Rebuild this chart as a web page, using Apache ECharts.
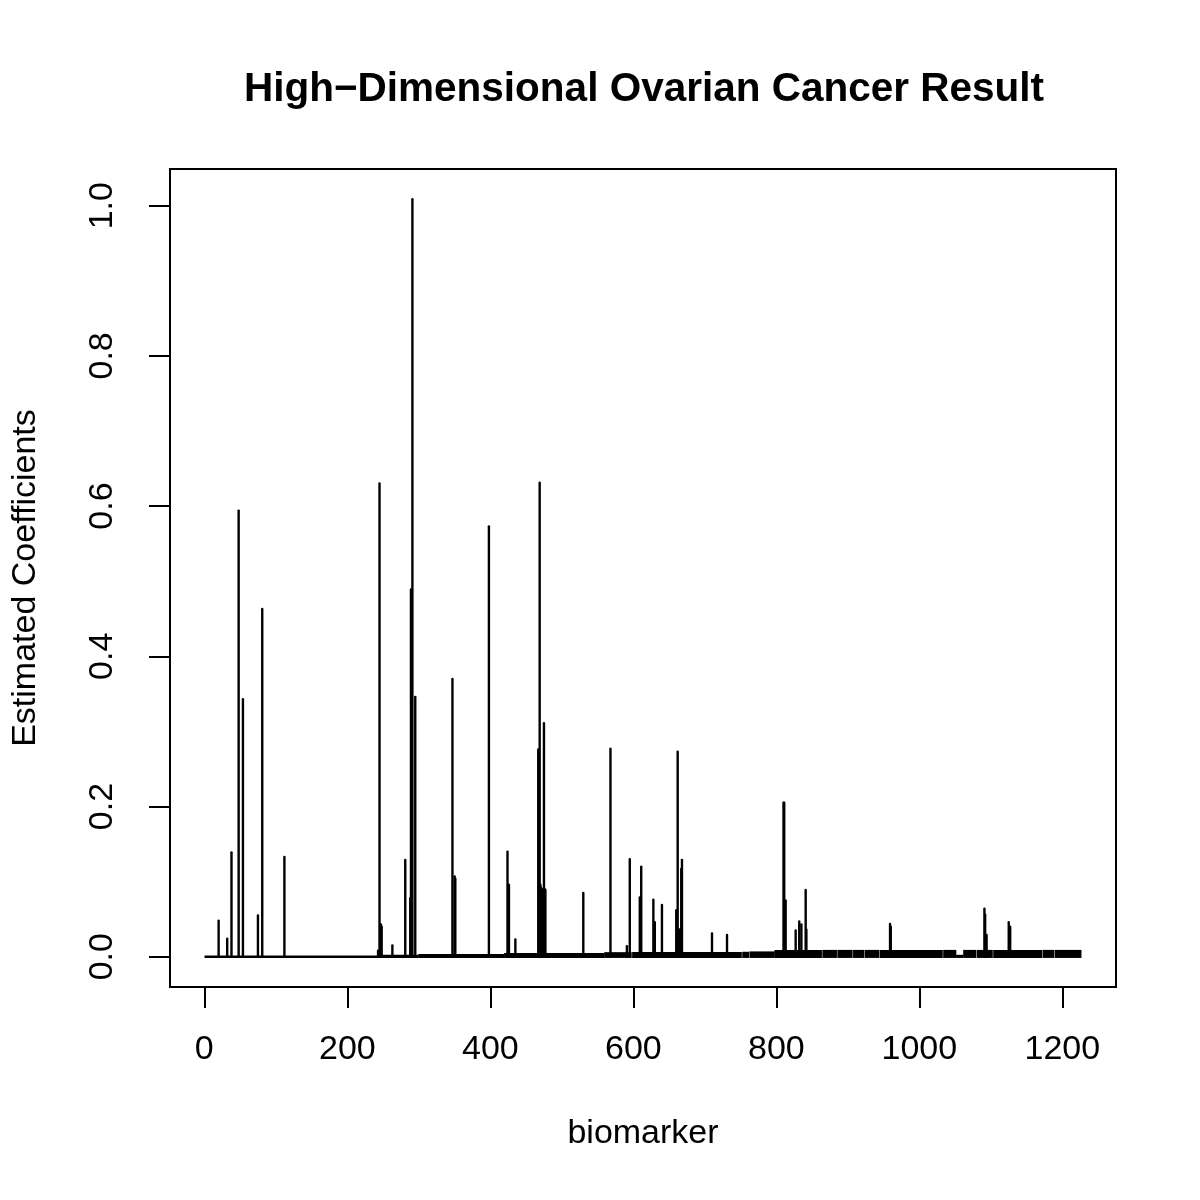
<!DOCTYPE html>
<html>
<head>
<meta charset="utf-8">
<script src="https://cdn.jsdelivr.net/npm/echarts@6/dist/echarts.min.js"></script>
<style>html,body{margin:0;padding:0;background:#fff;}#c{width:1200px;height:1200px;}</style>
</head>
<body>
<div id="c"></div>
<script>
// Selected biomarkers: index and estimated coefficient
const peakIdx = [20, 32, 38, 48, 54, 75, 81, 112, 243, 245, 247, 248, 263, 281, 288, 289, 291, 295, 347, 350, 351, 398, 424, 426, 435, 467, 469, 470, 471, 472, 475, 476, 477, 530, 568, 591, 595, 609, 611, 628, 630, 640, 660, 662, 663, 664, 665, 667, 668, 710, 731, 810, 811, 813, 827, 832, 835, 841, 842, 959, 960, 1091, 1092, 1094, 1125, 1127];
const peakVal = [0.048, 0.024, 0.139, 0.594, 0.343, 0.055, 0.463, 0.133, 0.008, 0.630, 0.043, 0.040, 0.015, 0.129, 0.078, 0.489, 1.0085, 0.346, 0.370, 0.107, 0.104, 0.573, 0.140, 0.096, 0.023, 0.276, 0.631, 0.096, 0.092, 0.090, 0.311, 0.090, 0.089, 0.085, 0.277, 0.014, 0.130, 0.079, 0.120, 0.076, 0.046, 0.069, 0.062, 0.273, 0.036, 0.036, 0.036, 0.117, 0.129, 0.031, 0.029, 0.205, 0.205, 0.075, 0.035, 0.047, 0.043, 0.089, 0.036, 0.0435, 0.040, 0.064, 0.056, 0.029, 0.046, 0.040];

// Runs of tiny coefficients forming the dense band near zero: first index, last index, level
const bandStart = [1, 243, 300, 420, 560, 599, 753, 763, 798, 865, 886, 908, 924, 945, 1034, 1052, 1062, 1081, 1104, 1173, 1190];
const bandEnd   = [242, 299, 419, 559, 597, 751, 761, 797, 863, 884, 906, 922, 943, 1032, 1051, 1061, 1079, 1102, 1171, 1188, 1226];
const bandVal   = [0, 0.001, 0.002, 0.0035, 0.0045, 0.0048, 0.005, 0.0055, 0.0075, 0.0075, 0.0075, 0.0075, 0.0075, 0.0075, 0.0075, 0.001, 0.0075, 0.0075, 0.0075, 0.0075, 0.0075];

const xTicks = [0, 200, 400, 600, 800, 1000, 1200];
const yTicks = [0, 0.2, 0.4, 0.6, 0.8, 1.0];

const FONT = '"Liberation Sans", Arial, Helvetica, sans-serif';

const peakData = peakIdx.map((x, i) => [x, peakVal[i]]);
const bandData = bandStart.map((s, i) => [s, bandEnd[i], bandVal[i]]);

const chart = echarts.init(document.getElementById('c'), null, {renderer: 'canvas'});
chart.setOption({
  animation: false,
  backgroundColor: '#fff',
  title: {
    text: 'High\u2212Dimensional Ovarian Cancer Result',
    left: 639,
    top: 64,
    textAlign: 'center',
    textStyle: {fontFamily: FONT, fontSize: 40.5, fontWeight: 'bold', color: '#000'}
  },
  grid: {
    left: 170, right: 84, top: 169, bottom: 213,
    show: true, borderColor: '#000', borderWidth: 2, backgroundColor: 'transparent'
  },
  xAxis: {
    type: 'value', min: -48, max: 1275,
    name: 'biomarker', nameLocation: 'middle', nameGap: 130,
    nameTextStyle: {fontFamily: FONT, fontSize: 34, color: '#000'},
    axisLine: {show: false, onZero: false},
    splitLine: {show: false},
    axisTick: {show: true, inside: false, length: 21, customValues: xTicks, lineStyle: {color: '#000', width: 2}},
    axisLabel: {show: true, margin: 46, customValues: xTicks, fontFamily: FONT, fontSize: 34, color: '#000',
      formatter: v => String(v)}
  },
  yAxis: {
    type: 'value', min: -0.0403, max: 1.0488,
    name: 'Estimated Coefficients', nameLocation: 'middle', nameGap: 127,
    nameTextStyle: {fontFamily: FONT, fontSize: 34, color: '#000'},
    axisLine: {show: false, onZero: false},
    splitLine: {show: false},
    axisTick: {show: true, inside: false, length: 21, customValues: yTicks, lineStyle: {color: '#000', width: 2}},
    axisLabel: {show: true, rotate: 90, margin: 50, customValues: yTicks, fontFamily: FONT, fontSize: 34, color: '#000',
      formatter: v => Number(v).toFixed(1)}
  },
  series: [
    {
      type: 'custom',
      data: bandData,
      encode: {x: [0, 1], y: 2},
      renderItem: function (params, api) {
        const s = api.value(0), e = api.value(1), v = api.value(2);
        const p0 = api.coord([s, 0]);
        const p1 = api.coord([e, v]);
        return {
          type: 'rect',
          shape: {x: p0[0] - 0.5, y: p1[1] - 1.2, width: p1[0] - p0[0] + 1.0, height: p0[1] - p1[1] + 2.4},
          style: {fill: '#000'}
        };
      }
    },
    {
      type: 'custom',
      data: peakData,
      encode: {x: 0, y: 1},
      renderItem: function (params, api) {
        const x = api.value(0), y = api.value(1);
        const p0 = api.coord([x, 0]);
        const p1 = api.coord([x, y]);
        return {
          type: 'line',
          shape: {x1: p0[0], y1: p0[1], x2: p1[0], y2: p1[1]},
          style: {stroke: '#000', lineWidth: 2.4, lineCap: 'round'}
        };
      }
    }
  ]
});
</script>
</body>
</html>
